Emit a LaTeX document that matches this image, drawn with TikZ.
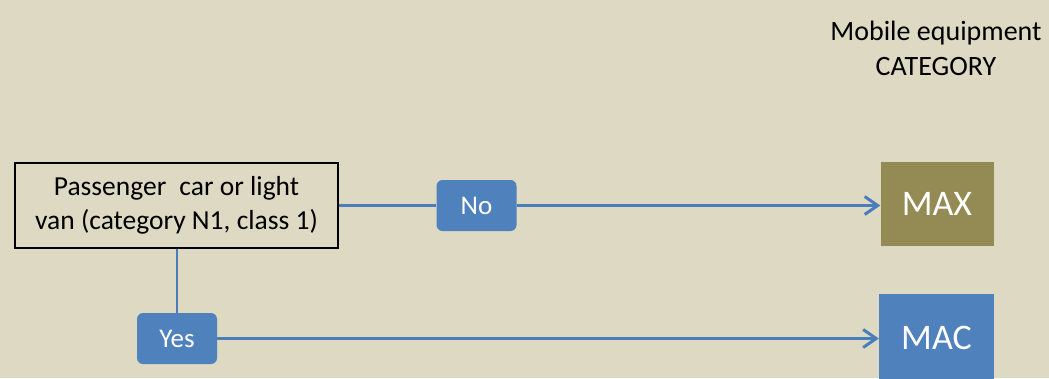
\documentclass[tikz,border=0pt]{standalone}
\usepackage{fontspec}
\setmainfont{Carlito}
\usetikzlibrary{arrows.meta}
\definecolor{bg}{RGB}{221,217,195}
\definecolor{accent}{RGB}{79,129,189}
\definecolor{olivebox}{RGB}{148,138,84}
\definecolor{linec}{RGB}{74,126,187}
\tikzset{
  qbox/.style={draw=black, line width=2pt, fill=bg, minimum width=323pt, minimum height=85pt, inner sep=0pt, align=center, font=\fontsize{27.5}{34}\selectfont},
  tagbox/.style={fill=accent, rounded corners=6pt, minimum width=80pt, minimum height=51pt, inner sep=0pt, text=white, font=\fontsize{27}{30}\selectfont},
  catbox/.style={minimum width=113pt, minimum height=84pt, inner sep=0pt, text=white, font=\fontsize{36}{40}\selectfont},
  conn/.style={draw=linec, line width=3pt},
  connarrow/.style={conn, -{Straight Barb[length=13pt, width=18pt, line width=3pt]}},
  title/.style={align=center, inner sep=0pt, font=\fontsize{28}{35}\selectfont}
}
\begin{document}
\begin{tikzpicture}[x=1pt, y=-1pt]
\fill[bg] (0,0) rectangle (1049,378);
\useasboundingbox (0,0) rectangle (1049,378);
\node[title] (title) at (936,48) {Mobile equipment\\CATEGORY};
\node[qbox] (q) at (176.5,205.5) {Passenger\hspace{0.25em} car or light\\van (category N1, class 1)};
\node[tagbox] (no) at (476.5,205.5) {No};
\node[tagbox] (yes) at (177,338.5) {Yes};
\node[catbox, fill=olivebox] (max) at (937,203.5) {MAX};
\node[catbox, fill=accent, minimum width=115pt, minimum height=88pt] (mac) at (936.5,338) {MAC};
\draw[conn] (q.east) -- (no.west);
\draw[connarrow] (no.east) -- (no.east -| max.west);
\draw[draw=linec, line width=2pt] (q.south -| yes.north) -- (yes.north);
\draw[connarrow] (yes.east) -- (yes.east -| mac.west);
\end{tikzpicture}
\end{document}
